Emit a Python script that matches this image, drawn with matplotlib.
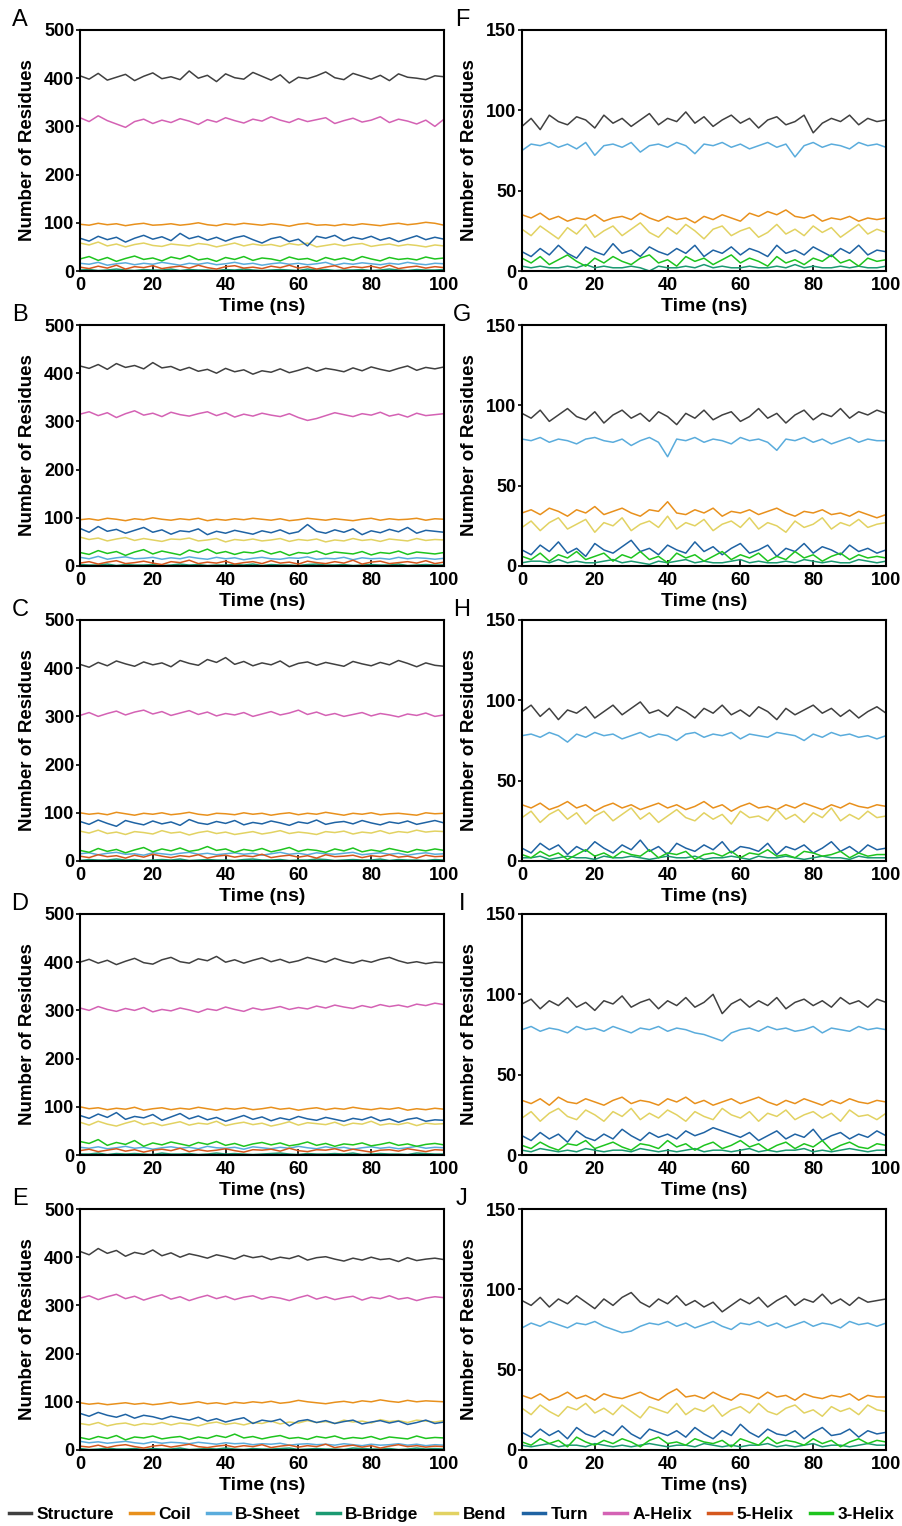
import numpy as np
import matplotlib
matplotlib.use("Agg")
import matplotlib.pyplot as plt

plt.rcParams['font.family'] = ['Liberation Sans', 'DejaVu Sans']

# time axis (ns), one sample every 2.5 ns
time_ns = np.arange(0, 100.1, 2.5)

series_names = ["Structure", "Coil", "B-Sheet", "B-Bridge", "Bend", "Turn", "A-Helix", "5-Helix", "3-Helix"]
series_colors = ["#404040", "#e8901c", "#5aacdc", "#1b9a72", "#e2d262", "#1f63a3", "#d462b4", "#d5581e", "#1ec41e"]
panel_labels = ["A", "B", "C", "D", "E", "F", "G", "H", "I", "J"]

# ---------- panel A ----------
a_structure = [405, 398, 410, 396, 402, 408, 395, 404, 411, 399, 403, 397, 415, 400, 406, 393, 409, 401, 398, 412, 404, 396, 407, 390, 402, 399, 405, 413, 401, 397, 410, 404, 398, 406, 395, 409, 402, 400, 397, 405, 403]
a_coil = [97, 95, 99, 96, 98, 94, 97, 99, 95, 96, 98, 95, 97, 100, 96, 94, 98, 96, 99, 97, 95, 98, 96, 93, 97, 99, 95, 96, 94, 97, 95, 98, 96, 94, 97, 99, 96, 98, 101, 99, 95]
a_bsheet = [16, 14, 18, 12, 15, 17, 13, 16, 14, 18, 15, 12, 16, 14, 17, 13, 15, 18, 14, 16, 12, 15, 17, 14, 16, 13, 15, 18, 12, 16, 14, 17, 15, 13, 16, 14, 18, 15, 13, 16, 15]
a_bbridge = [2, 3, 1, 2, 4, 2, 1, 3, 2, 2, 4, 1, 3, 2, 2, 1, 3, 2, 4, 2, 1, 2, 3, 2, 1, 4, 2, 3, 1, 2, 2, 3, 1, 2, 4, 2, 1, 3, 2, 2, 3]
a_bend = [58, 54, 60, 52, 56, 50, 55, 58, 53, 51, 56, 54, 52, 57, 55, 50, 54, 58, 52, 56, 53, 55, 51, 57, 54, 58, 50, 53, 56, 52, 55, 57, 51, 54, 56, 52, 55, 53, 50, 54, 52]
a_turn = [68, 62, 72, 65, 70, 60, 68, 74, 66, 71, 63, 78, 67, 72, 64, 70, 62, 69, 73, 65, 58, 67, 71, 61, 66, 52, 72, 68, 74, 63, 70, 66, 72, 64, 69, 61, 67, 73, 65, 70, 66]
a_ahelix = [318, 310, 322, 312, 305, 298, 310, 315, 306, 313, 308, 316, 311, 304, 314, 309, 318, 312, 307, 315, 311, 320, 313, 308, 316, 310, 314, 318, 306, 312, 317, 309, 313, 320, 308, 315, 311, 305, 313, 300, 315]
a_5helix = [8, 5, 10, 6, 12, 4, 9, 7, 11, 5, 8, 10, 6, 12, 7, 4, 9, 11, 6, 8, 5, 10, 7, 12, 6, 9, 4, 8, 11, 5, 9, 7, 10, 6, 12, 5, 8, 10, 6, 9, 7]
a_3helix = [25, 30, 22, 28, 20, 26, 31, 24, 27, 21, 29, 25, 32, 23, 26, 20, 28, 24, 30, 22, 27, 25, 21, 29, 24, 26, 20, 28, 23, 27, 22, 30, 25, 21, 28, 24, 26, 23, 29, 25, 27]

# ---------- panel B ----------
b_structure = [415, 410, 418, 408, 420, 412, 416, 409, 422, 411, 414, 406, 412, 404, 408, 400, 410, 403, 407, 398, 405, 402, 409, 401, 406, 412, 404, 410, 407, 403, 411, 405, 413, 408, 404, 410, 415, 406, 412, 409, 413]
b_coil = [96, 98, 95, 99, 97, 94, 98, 96, 100, 97, 95, 98, 96, 99, 94, 97, 95, 98, 96, 99, 97, 95, 98, 94, 96, 99, 97, 95, 98, 96, 94, 97, 99, 95, 98, 96, 97, 99, 95, 98, 97]
b_bsheet = [18, 15, 20, 14, 17, 19, 15, 16, 18, 14, 17, 15, 19, 16, 14, 18, 15, 17, 13, 16, 18, 15, 14, 17, 16, 19, 14, 16, 15, 18, 13, 17, 15, 16, 14, 18, 15, 17, 16, 14, 16]
b_bbridge = [3, 2, 2, 4, 1, 3, 2, 2, 3, 1, 2, 4, 2, 3, 1, 2, 2, 3, 2, 4, 1, 3, 2, 2, 1, 3, 4, 2, 2, 3, 1, 2, 3, 2, 2, 4, 1, 2, 3, 2, 2]
b_bend = [60, 55, 58, 52, 56, 59, 53, 57, 54, 51, 56, 55, 58, 52, 54, 57, 50, 55, 53, 56, 52, 54, 57, 51, 55, 53, 56, 50, 54, 52, 57, 53, 55, 51, 56, 54, 52, 57, 53, 55, 54]
b_turn = [78, 70, 82, 72, 76, 68, 74, 80, 70, 75, 66, 73, 71, 77, 65, 72, 68, 74, 70, 66, 73, 69, 75, 67, 71, 86, 72, 68, 75, 70, 77, 65, 73, 69, 76, 71, 80, 68, 74, 72, 70]
b_ahelix = [315, 320, 312, 318, 308, 316, 322, 313, 317, 310, 319, 314, 311, 316, 320, 312, 318, 309, 315, 311, 317, 313, 310, 316, 308, 302, 306, 312, 318, 314, 310, 316, 313, 319, 311, 315, 309, 317, 312, 314, 316]
b_5helix = [6, 9, 4, 8, 11, 5, 7, 10, 6, 3, 9, 7, 12, 5, 8, 6, 10, 4, 7, 9, 5, 11, 6, 8, 4, 10, 7, 5, 9, 6, 12, 4, 8, 10, 5, 7, 9, 6, 11, 5, 8]
b_3helix = [28, 24, 32, 26, 30, 22, 29, 34, 25, 31, 27, 23, 33, 28, 35, 26, 30, 24, 29, 27, 32, 25, 30, 22, 28, 26, 31, 24, 29, 27, 25, 30, 23, 28, 26, 31, 24, 29, 27, 25, 28]

# ---------- panel C ----------
c_structure = [408, 402, 412, 405, 415, 409, 404, 413, 407, 411, 403, 416, 410, 406, 418, 412, 422, 408, 414, 405, 411, 407, 415, 403, 410, 413, 406, 412, 408, 404, 414, 409, 405, 412, 407, 416, 410, 403, 411, 406, 404]
c_coil = [100, 97, 99, 96, 101, 98, 95, 99, 97, 100, 96, 98, 101, 97, 95, 99, 98, 96, 100, 97, 99, 95, 98, 100, 96, 99, 97, 101, 98, 95, 99, 97, 100, 96, 98, 99, 97, 95, 100, 98, 99]
c_bsheet = [15, 17, 13, 16, 18, 14, 15, 12, 17, 15, 13, 16, 18, 14, 16, 13, 15, 17, 14, 16, 12, 15, 18, 14, 16, 13, 17, 15, 14, 16, 18, 13, 15, 17, 14, 16, 12, 15, 17, 14, 15]
c_bbridge = [1, 3, 2, 2, 4, 2, 3, 1, 2, 3, 2, 4, 1, 2, 3, 2, 2, 1, 3, 4, 2, 2, 3, 1, 2, 2, 4, 3, 1, 2, 3, 2, 2, 4, 1, 3, 2, 2, 1, 3, 2]
c_bend = [62, 58, 64, 57, 60, 55, 61, 59, 56, 63, 58, 60, 54, 59, 62, 57, 60, 55, 58, 61, 56, 59, 63, 57, 60, 58, 55, 61, 59, 62, 56, 60, 58, 63, 57, 61, 59, 64, 60, 62, 61]
c_turn = [82, 76, 85, 78, 72, 84, 79, 75, 83, 77, 81, 74, 86, 79, 76, 82, 78, 84, 75, 80, 77, 83, 79, 74, 81, 78, 85, 76, 80, 82, 77, 84, 79, 75, 81, 78, 83, 76, 80, 84, 79]
c_ahelix = [302, 308, 300, 306, 311, 303, 309, 313, 305, 310, 302, 307, 312, 304, 309, 301, 306, 303, 308, 300, 305, 310, 303, 307, 313, 304, 309, 302, 306, 300, 304, 308, 301, 306, 303, 299, 305, 302, 307, 300, 303]
c_5helix = [10, 7, 13, 9, 11, 6, 12, 8, 14, 10, 7, 11, 9, 13, 6, 10, 12, 8, 11, 9, 14, 7, 10, 12, 8, 11, 6, 13, 9, 10, 12, 7, 11, 9, 13, 8, 10, 6, 12, 9, 10]
c_3helix = [22, 18, 26, 20, 24, 17, 23, 28, 19, 25, 21, 27, 20, 23, 30, 22, 25, 18, 24, 21, 26, 19, 23, 28, 20, 24, 22, 18, 25, 21, 27, 19, 23, 20, 26, 22, 18, 24, 21, 25, 22]

# ---------- panel D ----------
d_structure = [400, 406, 398, 404, 395, 402, 408, 399, 396, 405, 410, 401, 398, 407, 403, 412, 400, 405, 398, 404, 409, 401, 406, 399, 403, 410, 405, 400, 408, 402, 398, 404, 400, 406, 410, 403, 398, 401, 397, 400, 399]
d_coil = [100, 96, 98, 94, 97, 95, 99, 93, 96, 98, 94, 97, 95, 99, 96, 93, 97, 95, 98, 94, 96, 99, 95, 97, 93, 96, 98, 94, 97, 95, 99, 96, 94, 97, 95, 98, 93, 96, 94, 97, 95]
d_bsheet = [16, 14, 17, 13, 15, 18, 14, 16, 12, 15, 17, 14, 16, 13, 18, 15, 14, 16, 12, 17, 15, 13, 16, 14, 18, 15, 13, 17, 14, 16, 12, 15, 17, 14, 16, 13, 15, 18, 14, 16, 15]
d_bbridge = [2, 2, 4, 1, 3, 2, 3, 2, 1, 4, 2, 2, 3, 1, 2, 4, 2, 3, 2, 1, 2, 3, 4, 2, 1, 3, 2, 2, 3, 2, 4, 1, 2, 3, 2, 2, 1, 4, 3, 2, 2]
d_bend = [68, 62, 70, 64, 60, 66, 71, 63, 67, 61, 65, 69, 62, 66, 64, 70, 61, 65, 68, 63, 66, 60, 64, 69, 62, 67, 65, 63, 68, 61, 66, 64, 70, 62, 65, 63, 67, 61, 66, 64, 65]
d_turn = [82, 76, 85, 78, 88, 74, 80, 77, 84, 72, 79, 86, 75, 81, 73, 78, 70, 76, 82, 74, 79, 71, 77, 73, 80, 75, 72, 78, 74, 70, 76, 73, 79, 71, 75, 68, 74, 77, 70, 73, 72]
d_ahelix = [305, 300, 308, 302, 298, 304, 300, 306, 297, 302, 299, 305, 301, 296, 303, 300, 307, 302, 298, 305, 301, 304, 308, 302, 306, 303, 309, 305, 311, 307, 304, 310, 306, 312, 308, 311, 307, 313, 310, 315, 312]
d_5helix = [9, 12, 7, 10, 13, 8, 11, 6, 10, 12, 9, 14, 7, 11, 8, 10, 13, 9, 6, 11, 10, 12, 8, 14, 9, 7, 11, 10, 13, 8, 12, 9, 6, 10, 11, 8, 13, 10, 7, 11, 10]
d_3helix = [28, 24, 32, 20, 26, 22, 30, 18, 25, 21, 27, 23, 19, 26, 22, 28, 20, 24, 18, 23, 26, 21, 25, 19, 22, 27, 20, 24, 18, 23, 21, 25, 19, 22, 26, 20, 23, 18, 22, 24, 21]

# ---------- panel E ----------
e_structure = [412, 405, 418, 408, 414, 402, 410, 406, 415, 403, 409, 400, 407, 403, 398, 405, 401, 396, 404, 399, 402, 395, 400, 397, 403, 394, 399, 401, 396, 392, 398, 394, 400, 395, 397, 391, 399, 393, 396, 398, 395]
e_coil = [98, 95, 97, 94, 96, 98, 95, 97, 94, 96, 99, 95, 97, 100, 96, 98, 95, 99, 97, 100, 98, 101, 97, 99, 103, 100, 98, 96, 99, 101, 98, 102, 100, 104, 101, 99, 103, 100, 102, 101, 100]
e_bsheet = [18, 15, 17, 14, 16, 18, 15, 13, 17, 14, 16, 15, 13, 16, 14, 12, 15, 13, 14, 11, 13, 12, 14, 10, 12, 13, 11, 12, 10, 13, 11, 9, 12, 10, 11, 13, 10, 12, 9, 11, 10]
e_bbridge = [3, 1, 2, 4, 2, 2, 3, 1, 3, 2, 2, 4, 1, 2, 3, 2, 4, 2, 1, 3, 2, 2, 3, 4, 1, 2, 3, 2, 2, 1, 4, 3, 2, 2, 3, 1, 2, 4, 2, 3, 2]
e_bend = [55, 52, 57, 50, 54, 56, 51, 55, 53, 57, 52, 56, 54, 50, 55, 58, 53, 56, 52, 57, 55, 60, 54, 58, 56, 61, 57, 59, 55, 62, 58, 60, 56, 63, 59, 61, 57, 62, 60, 58, 61]
e_turn = [76, 70, 78, 72, 68, 74, 66, 72, 69, 64, 70, 66, 62, 68, 60, 65, 58, 63, 67, 55, 62, 59, 64, 50, 60, 63, 57, 61, 55, 59, 62, 54, 58, 61, 56, 60, 53, 57, 62, 55, 58]
e_ahelix = [315, 320, 312, 318, 323, 314, 319, 311, 317, 322, 313, 318, 310, 316, 321, 314, 319, 312, 317, 320, 313, 318, 315, 310, 316, 321, 313, 318, 312, 316, 319, 311, 317, 314, 320, 313, 316, 310, 315, 318, 316]
e_5helix = [8, 6, 10, 5, 9, 11, 7, 4, 8, 10, 6, 9, 12, 7, 5, 8, 10, 6, 9, 7, 11, 5, 8, 10, 6, 9, 7, 12, 5, 8, 10, 6, 9, 4, 8, 11, 7, 9, 6, 8, 7]
e_3helix = [26, 22, 28, 24, 30, 21, 27, 25, 29, 23, 26, 28, 22, 27, 24, 30, 26, 33, 25, 28, 23, 27, 30, 24, 26, 22, 28, 25, 29, 23, 26, 24, 28, 22, 27, 25, 23, 29, 24, 26, 25]

# ---------- panel F ----------
f_structure = [90, 95, 88, 97, 93, 91, 96, 94, 89, 97, 92, 95, 90, 94, 98, 91, 95, 93, 99, 92, 96, 90, 94, 97, 92, 95, 89, 94, 96, 91, 93, 97, 86, 92, 95, 93, 97, 91, 95, 93, 94]
f_coil = [35, 33, 36, 32, 34, 31, 33, 32, 35, 31, 33, 34, 32, 36, 33, 31, 34, 32, 33, 30, 34, 32, 35, 33, 31, 36, 34, 37, 35, 38, 34, 33, 35, 31, 33, 32, 34, 31, 33, 32, 33]
f_bsheet = [75, 79, 78, 80, 77, 79, 76, 80, 72, 78, 79, 77, 80, 74, 78, 79, 77, 80, 78, 73, 79, 78, 80, 77, 79, 76, 78, 80, 77, 79, 71, 78, 80, 77, 79, 78, 76, 80, 78, 79, 77]
f_bbridge = [3, 2, 3, 2, 2, 3, 2, 4, 2, 3, 2, 2, 3, 2, 0, 3, 2, 2, 3, 2, 4, 2, 3, 2, 2, 3, 2, 2, 3, 2, 4, 2, 3, 2, 2, 3, 2, 3, 2, 2, 3]
f_bend = [26, 22, 28, 24, 20, 27, 23, 29, 21, 25, 28, 22, 26, 30, 24, 21, 27, 23, 29, 25, 20, 26, 28, 22, 25, 27, 21, 24, 29, 23, 26, 22, 28, 24, 27, 21, 25, 29, 23, 26, 24]
f_turn = [12, 9, 14, 10, 16, 11, 8, 15, 12, 10, 17, 11, 13, 9, 15, 12, 10, 14, 11, 16, 9, 13, 11, 15, 10, 14, 12, 9, 16, 11, 13, 10, 15, 12, 9, 14, 11, 16, 10, 13, 12]
f_ahelix = [0] * 41
f_5helix = [0] * 41
f_3helix = [8, 5, 9, 4, 7, 10, 6, 3, 8, 5, 9, 6, 4, 8, 10, 5, 7, 3, 9, 6, 8, 4, 7, 10, 5, 8, 6, 3, 9, 5, 7, 4, 8, 6, 10, 5, 7, 3, 8, 6, 7]

# ---------- panel G ----------
g_structure = [95, 92, 97, 90, 94, 98, 93, 91, 96, 89, 94, 97, 92, 95, 90, 96, 93, 88, 95, 92, 97, 91, 94, 96, 90, 93, 98, 92, 95, 89, 94, 97, 91, 95, 93, 98, 92, 96, 94, 97, 95]
g_coil = [33, 35, 32, 36, 34, 31, 35, 33, 37, 32, 34, 36, 33, 31, 35, 34, 40, 33, 32, 35, 33, 36, 31, 34, 33, 35, 32, 34, 36, 33, 31, 34, 33, 35, 32, 33, 31, 34, 32, 30, 32]
g_bsheet = [79, 78, 80, 77, 79, 78, 76, 79, 80, 78, 77, 79, 75, 78, 80, 77, 68, 79, 78, 80, 77, 79, 78, 76, 80, 78, 79, 77, 72, 79, 78, 80, 77, 79, 76, 78, 80, 77, 79, 78, 78]
g_bbridge = [2, 3, 3, 2, 4, 2, 3, 2, 2, 3, 4, 2, 3, 2, 1, 3, 2, 3, 4, 2, 3, 2, 2, 3, 4, 2, 3, 2, 2, 3, 2, 4, 3, 2, 3, 2, 2, 4, 3, 2, 3]
g_bend = [24, 28, 22, 27, 30, 23, 26, 29, 21, 27, 25, 30, 22, 26, 28, 24, 31, 23, 27, 25, 29, 22, 26, 28, 24, 30, 23, 27, 25, 21, 28, 24, 26, 30, 23, 27, 25, 29, 24, 26, 27]
g_turn = [10, 7, 13, 9, 15, 8, 11, 6, 14, 10, 8, 12, 16, 9, 11, 7, 13, 10, 8, 15, 9, 12, 7, 11, 14, 8, 10, 13, 6, 11, 9, 14, 8, 12, 10, 7, 13, 9, 11, 8, 10]
g_ahelix = [0] * 41
g_5helix = [0] * 41
g_3helix = [6, 4, 8, 3, 7, 5, 9, 4, 6, 8, 3, 7, 5, 9, 4, 6, 2, 8, 5, 7, 3, 6, 9, 4, 7, 5, 8, 3, 6, 4, 9, 5, 7, 3, 6, 8, 4, 7, 5, 6, 5]

# ---------- panel H ----------
h_structure = [93, 97, 90, 95, 88, 94, 92, 96, 89, 93, 97, 91, 95, 99, 92, 94, 90, 96, 93, 89, 95, 92, 97, 91, 94, 90, 96, 93, 88, 95, 91, 94, 97, 92, 95, 90, 94, 89, 93, 96, 92]
h_coil = [35, 33, 36, 32, 34, 37, 33, 35, 31, 34, 36, 33, 35, 32, 34, 36, 33, 35, 32, 34, 37, 33, 35, 31, 34, 36, 33, 34, 32, 35, 33, 36, 34, 32, 35, 33, 36, 34, 33, 35, 34]
h_bsheet = [78, 79, 77, 80, 78, 74, 79, 77, 80, 78, 79, 76, 78, 80, 77, 79, 78, 75, 79, 80, 77, 79, 78, 80, 76, 79, 78, 77, 80, 79, 78, 75, 79, 77, 80, 78, 79, 77, 78, 76, 78]
h_bbridge = [2, 2, 3, 1, 2, 3, 2, 2, 1, 3, 2, 2, 3, 2, 1, 2, 3, 2, 2, 3, 1, 2, 2, 3, 2, 1, 3, 2, 2, 3, 2, 1, 2, 3, 2, 2, 1, 3, 2, 2, 2]
h_bend = [27, 31, 24, 29, 32, 26, 30, 23, 28, 31, 25, 29, 33, 26, 30, 24, 28, 32, 27, 25, 30, 26, 29, 23, 31, 27, 28, 25, 32, 26, 29, 24, 30, 27, 33, 25, 29, 26, 31, 27, 28]
h_turn = [8, 5, 11, 7, 10, 4, 9, 6, 12, 8, 5, 10, 7, 13, 6, 9, 4, 11, 8, 6, 10, 7, 12, 5, 9, 8, 6, 11, 4, 9, 7, 10, 5, 8, 12, 6, 9, 5, 10, 7, 8]
h_ahelix = [0] * 41
h_5helix = [0] * 41
h_3helix = [4, 2, 6, 3, 5, 1, 4, 7, 3, 5, 2, 6, 4, 3, 7, 2, 5, 4, 6, 1, 4, 5, 3, 6, 2, 5, 4, 7, 3, 4, 2, 6, 5, 3, 4, 6, 2, 5, 3, 4, 4]

# ---------- panel I ----------
i_structure = [94, 97, 91, 96, 93, 98, 92, 95, 90, 96, 94, 99, 92, 95, 97, 91, 96, 93, 98, 92, 95, 100, 88, 94, 97, 92, 96, 93, 98, 91, 95, 97, 93, 96, 92, 98, 94, 96, 92, 97, 95]
i_coil = [34, 32, 35, 31, 36, 33, 32, 35, 33, 31, 34, 36, 32, 34, 33, 31, 35, 33, 36, 32, 34, 31, 33, 35, 32, 34, 36, 33, 31, 34, 32, 35, 33, 31, 34, 32, 35, 33, 32, 34, 33]
i_bsheet = [78, 80, 77, 79, 78, 76, 80, 78, 79, 77, 80, 78, 76, 79, 78, 80, 77, 79, 78, 76, 75, 73, 71, 76, 78, 79, 77, 80, 78, 79, 77, 78, 80, 76, 79, 78, 77, 80, 78, 79, 78]
i_bbridge = [3, 2, 4, 3, 2, 3, 2, 4, 3, 2, 3, 3, 2, 4, 3, 2, 3, 2, 3, 4, 2, 3, 3, 2, 3, 4, 2, 3, 2, 3, 3, 4, 2, 3, 2, 3, 4, 3, 2, 3, 3]
i_bend = [23, 27, 21, 26, 29, 24, 22, 28, 25, 21, 27, 24, 29, 22, 26, 23, 28, 25, 21, 27, 24, 22, 29, 25, 23, 27, 21, 26, 24, 28, 22, 25, 27, 23, 26, 21, 28, 24, 25, 22, 26]
i_turn = [12, 9, 14, 10, 13, 8, 15, 11, 9, 13, 10, 16, 12, 9, 14, 11, 13, 10, 15, 12, 14, 17, 15, 13, 11, 14, 9, 12, 15, 10, 13, 11, 16, 9, 12, 14, 10, 13, 11, 15, 12]
i_ahelix = [0] * 41
i_5helix = [0] * 41
i_3helix = [6, 4, 8, 5, 3, 7, 6, 9, 4, 6, 8, 5, 3, 7, 6, 4, 9, 5, 7, 3, 6, 8, 4, 6, 9, 5, 7, 3, 6, 8, 4, 7, 5, 9, 3, 6, 8, 5, 4, 7, 6]

# ---------- panel J ----------
j_structure = [93, 90, 95, 89, 94, 91, 96, 92, 88, 94, 90, 95, 98, 92, 89, 94, 91, 96, 90, 93, 89, 92, 86, 90, 94, 91, 95, 89, 93, 96, 90, 94, 92, 97, 91, 94, 90, 95, 92, 93, 94]
j_coil = [34, 32, 35, 31, 33, 36, 32, 34, 31, 35, 33, 32, 34, 36, 33, 31, 35, 38, 33, 34, 32, 36, 33, 31, 35, 34, 32, 36, 33, 34, 31, 35, 33, 32, 34, 33, 35, 31, 34, 33, 33]
j_bsheet = [76, 79, 77, 80, 78, 76, 79, 78, 80, 77, 75, 73, 74, 77, 79, 78, 80, 77, 79, 76, 78, 80, 77, 75, 79, 78, 80, 77, 79, 76, 78, 80, 77, 79, 78, 76, 80, 78, 79, 77, 79]
j_bbridge = [3, 2, 3, 4, 2, 3, 3, 2, 4, 3, 2, 3, 2, 3, 4, 3, 2, 3, 3, 2, 4, 3, 2, 3, 2, 3, 3, 4, 2, 3, 2, 3, 4, 2, 3, 3, 2, 3, 4, 3, 3]
j_bend = [26, 22, 28, 24, 21, 27, 25, 29, 23, 26, 22, 28, 24, 20, 27, 25, 23, 29, 22, 26, 24, 28, 21, 25, 27, 23, 29, 24, 22, 26, 28, 23, 25, 21, 27, 24, 26, 22, 28, 25, 24]
j_turn = [11, 8, 13, 9, 12, 7, 14, 10, 8, 12, 9, 15, 10, 7, 13, 11, 9, 12, 8, 14, 10, 7, 12, 9, 16, 11, 8, 13, 10, 9, 12, 7, 11, 14, 9, 10, 13, 8, 12, 10, 11]
j_ahelix = [0] * 41
j_5helix = [0] * 41
j_3helix = [5, 3, 7, 4, 6, 2, 8, 5, 3, 6, 4, 7, 5, 2, 6, 8, 4, 5, 3, 7, 5, 4, 6, 2, 7, 5, 3, 8, 4, 6, 5, 3, 7, 4, 6, 2, 5, 7, 4, 6, 5]

panels = [
    [a_structure, a_coil, a_bsheet, a_bbridge, a_bend, a_turn, a_ahelix, a_5helix, a_3helix],
    [b_structure, b_coil, b_bsheet, b_bbridge, b_bend, b_turn, b_ahelix, b_5helix, b_3helix],
    [c_structure, c_coil, c_bsheet, c_bbridge, c_bend, c_turn, c_ahelix, c_5helix, c_3helix],
    [d_structure, d_coil, d_bsheet, d_bbridge, d_bend, d_turn, d_ahelix, d_5helix, d_3helix],
    [e_structure, e_coil, e_bsheet, e_bbridge, e_bend, e_turn, e_ahelix, e_5helix, e_3helix],
    [f_structure, f_coil, f_bsheet, f_bbridge, f_bend, f_turn, f_ahelix, f_5helix, f_3helix],
    [g_structure, g_coil, g_bsheet, g_bbridge, g_bend, g_turn, g_ahelix, g_5helix, g_3helix],
    [h_structure, h_coil, h_bsheet, h_bbridge, h_bend, h_turn, h_ahelix, h_5helix, h_3helix],
    [i_structure, i_coil, i_bsheet, i_bbridge, i_bend, i_turn, i_ahelix, i_5helix, i_3helix],
    [j_structure, j_coil, j_bsheet, j_bbridge, j_bend, j_turn, j_ahelix, j_5helix, j_3helix],
]

W, H = 903, 1526
fig = plt.figure(figsize=(W / 100, H / 100), dpi=100)

col_left = [80, 522]
row_top = [30, 325, 620, 914, 1209]
ax_w, ax_h = 364, 241

handles = []
for k, data in enumerate(panels):
    col = k // 5
    row = k % 5
    x0 = col_left[col]
    y0 = row_top[row]
    ax = fig.add_axes([x0 / W, 1 - (y0 + ax_h) / H, ax_w / W, ax_h / H])
    for name, color, vals in zip(series_names, series_colors, data):
        ln, = ax.plot(time_ns, vals, color=color, lw=1.1, label=name)
        if k == 0:
            handles.append(ln)
    ax.set_xlim(0, 100)
    ax.set_xticks([0, 20, 40, 60, 80, 100])
    if col == 0:
        ax.set_ylim(0, 500)
        ax.set_yticks([0, 100, 200, 300, 400, 500])
    else:
        ax.set_ylim(0, 150)
        ax.set_yticks([0, 50, 100, 150])
    ax.tick_params(axis='x', direction='in', length=4, width=1.2, labelsize=13, pad=4)
    ax.tick_params(axis='y', direction='out', length=3, width=1.2, labelsize=13, pad=1)
    for lab in ax.get_xticklabels() + ax.get_yticklabels():
        lab.set_fontweight('bold')
    for sp in ax.spines.values():
        sp.set_linewidth(1.5)
    ax.set_xlabel("Time (ns)", fontsize=14, fontweight='bold', labelpad=3)
    ax.set_ylabel("Number of Residues", fontsize=13.5, fontweight='bold', labelpad=6)
    fig.text((x0 - 60) / W, 1 - (y0 - 10) / H, panel_labels[k], fontsize=17,
             ha='center', va='center')

fig.legend(handles=handles, labels=series_names, loc='center', ncol=9,
           bbox_to_anchor=(0.5, 1 - 1514 / H), frameon=False,
           prop={'weight': 'bold', 'size': 12.5}, handlelength=1.3,
           handletextpad=0.3, columnspacing=0.95, borderaxespad=0)
for ln in fig.legends[0].get_lines():
    ln.set_linewidth(2.5)

fig.savefig("out.png", dpi=100)
